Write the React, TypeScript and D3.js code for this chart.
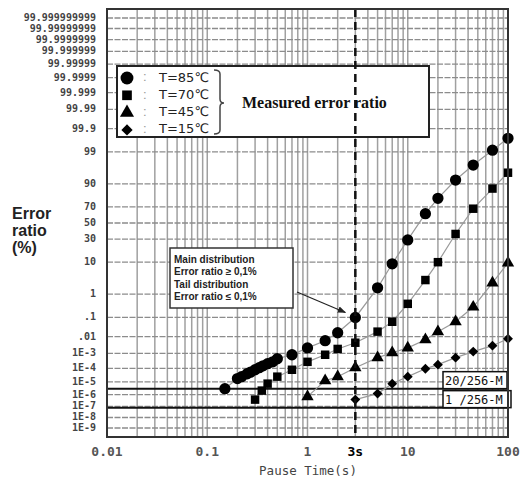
import React from 'react';
import * as d3 from 'd3';

// error ratio (%) vs pause time (s)
const t85 = [0.15, 0.2, 0.22, 0.25, 0.27, 0.3, 0.33, 0.36, 0.4, 0.45, 0.5, 0.7, 1, 1.5, 2, 3, 5, 7, 10, 15, 20, 30, 45, 70, 100];
const e85 = [3.0e-6, 1.8e-5, 2.5e-5, 4.1e-5, 5.3e-5, 7.9e-5, 1.1e-4, 1.5e-4, 2.1e-4, 2.8e-4, 4.5e-4, 8.2e-4, 2.2e-3, 5.9e-3, 0.0165, 0.1, 1.7, 9.1, 29, 62, 79, 92, 97.1, 99.14, 99.72];

const t70 = [0.3, 0.35, 0.4, 0.5, 0.7, 1, 1.5, 2, 3, 5, 7, 10, 15, 20, 30, 45, 70, 100];
const e70 = [3.8e-7, 2.1e-6, 7.4e-6, 2.5e-5, 7.9e-5, 2.8e-4, 8.2e-4, 1.9e-3, 4.5e-3, 0.019, 0.062, 0.41, 3.1, 10, 36, 68, 87, 95];

const t45 = [1, 1.5, 2, 3, 5, 7, 10, 15, 20, 30, 45, 70, 100];
const e45 = [6.7e-7, 1.25e-5, 2.5e-5, 1.1e-4, 5.3e-4, 1.1e-3, 2.2e-3, 6.7e-3, 0.019, 0.062, 0.3, 2.5, 9.6];

const t15 = [3, 5, 7, 10, 15, 20, 30, 45, 70, 100];
const e15 = [3.8e-7, 1.2e-6, 7.4e-6, 2.5e-5, 9.4e-5, 1.8e-4, 5.3e-4, 1.3e-3, 3.0e-3, 7.6e-3];

const seriesNames = ['T=85℃', 'T=70℃', 'T=45℃', 'T=15℃'];

const yTickValues = [99.999999999, 99.99999999, 99.9999999, 99.999999, 99.99999, 99.9999, 99.999, 99.99, 99.9, 99, 90, 70, 50, 30, 10, 1, 0.1, 0.01, 1e-3, 1e-4, 1e-5, 1e-6, 1e-7, 1e-8, 1e-9];
const yTickLabels = ['99.999999999', '99.99999999', '99.9999999', '99.999999', '99.99999', '99.9999', '99.999', '99.99', '99.9', '99', '90', '70', '50', '30', '10', '1', '.1', '.01', '1E-3', '1E-4', '1E-5', '1E-6', '1E-7', '1E-8', '1E-9'];

const xTickValues = [0.01, 0.1, 1, 3, 10, 100];
const xTickLabels = ['0.01', '0.1', '1', '3s', '10', '100'];

const limitLabels = ['20/256-M', '1 /256-M'];
const limitValues = [3.0e-6, 7.7e-8];

const markedTime = 3;

// inverse normal cdf (Acklam)
function probit(p: number): number {
  const a = [-3.969683028665376e1, 2.209460984245205e2, -2.759285104469687e2, 1.38357751867269e2, -3.066479806614716e1, 2.506628277459239];
  const b = [-5.447609879822406e1, 1.615858368580409e2, -1.556989798598866e2, 6.680131188771972e1, -1.328068155288572e1];
  const c = [-7.784894002430293e-3, -3.223964580411365e-1, -2.400758277161838, -2.549732539343734, 4.374664141464968, 2.938163982698783];
  const d = [7.784695709041462e-3, 3.224671290700398e-1, 2.445134137142996, 3.754408661907416];
  const tail = (q: number) =>
    (((((c[0] * q + c[1]) * q + c[2]) * q + c[3]) * q + c[4]) * q + c[5]) /
    ((((d[0] * q + d[1]) * q + d[2]) * q + d[3]) * q + 1);
  if (p < 0.02425) return tail(Math.sqrt(-2 * Math.log(p)));
  if (p > 1 - 0.02425) return -tail(Math.sqrt(-2 * Math.log(1 - p)));
  const q = p - 0.5, r = q * q;
  return ((((((a[0] * r + a[1]) * r + a[2]) * r + a[3]) * r + a[4]) * r + a[5]) * q) /
    (((((b[0] * r + b[1]) * r + b[2]) * r + b[3]) * r + b[4]) * r + 1);
}

const W = 520, H = 481;
const left = 107, right = 508, top = 9, bottom = 437;

const x = d3.scaleLog().domain([0.01, 100]).range([left, right]);
const z = d3.scaleLinear().domain([-7, 7]).range([bottom, top]);
const y = (pct: number) => (pct >= 50 ? z(-probit((100 - pct) / 100)) : z(probit(pct / 100)));

const series = [
  { t: t85, e: e85, shape: d3.symbolCircle, size: 100 },
  { t: t70, e: e70, shape: d3.symbolSquare, size: 72 },
  { t: t45, e: e45, shape: d3.symbolTriangle, size: 66 },
  { t: t15, e: e15, shape: d3.symbolDiamond2, size: 62 },
];

const line = d3.line<[number, number]>().x(d => x(d[0])).y(d => y(d[1]));

const mono = '"DejaVu Sans Mono", monospace';
const sans = '"Liberation Sans", Arial, sans-serif';

export default function App() {
  const gridX = x.ticks();
  const anchorX = x(markedTime), anchorY = y(0.1);

  return (
    <svg width={W} height={H} style={{ position: 'absolute', left: 0, top: 0, background: '#fff' }}>
      <defs>
        <marker id="arrow" viewBox="0 0 10 10" refX="9" refY="5" markerWidth="7" markerHeight="7" orient="auto">
          <path d="M0,1 L10,5 L0,9 z" fill="#222" />
        </marker>
      </defs>
      <rect width={W} height={H} fill="#fff" />

      {/* grid */}
      {gridX.map((v, i) => (
        <line key={'gx' + i} x1={x(v)} x2={x(v)} y1={top} y2={bottom} stroke="#a0a0a0" strokeWidth={1.5} />
      ))}
      {yTickValues.map((v, i) => (
        <line key={'gy' + i} x1={left} x2={right} y1={y(v)} y2={y(v)} stroke="#8c8c8c" strokeWidth={1.3} strokeDasharray="6,1.5" />
      ))}

      {/* limits */}
      {limitValues.map((v, i) => (
        <line key={'lim' + i} x1={left} x2={right} y1={y(v)} y2={y(v)} stroke="#111" strokeWidth={2} />
      ))}

      {/* connecting lines + markers */}
      {series.map((s, i) => (
        <path key={'ln' + i} d={line(s.t.map((t, j) => [t, s.e[j]] as [number, number])) || ''} fill="none" stroke="#9a9a9a" strokeWidth={1.2} />
      ))}
      {series.map((s, i) =>
        s.t.map((t, j) => (
          <path key={'pt' + i + '-' + j} d={d3.symbol(s.shape, s.size)() || ''} transform={`translate(${x(t)},${y(s.e[j])})`} fill="#000" />
        ))
      )}

      {/* legend */}
      <rect x={117} y={66} width={312} height={71} fill="#fff" stroke="#222" strokeWidth={2} />
      {series.map((s, i) => {
        const ly = 78 + i * 17.3;
        return (
          <g key={'lg' + i}>
            <path d={d3.symbol(s.shape, s.size * 1.3)() || ''} transform={`translate(127,${ly})`} fill="#000" />
            <text x={143} y={ly} dominantBaseline="middle" fontFamily={sans} fontSize={13} fill="#999">:</text>
            <text x={159} y={ly} dominantBaseline="middle" fontFamily='"DejaVu Sans", sans-serif' fontSize={13} fill="#222">{seriesNames[i]}</text>
          </g>
        );
      })}
      <path d="M214,70 Q220,70 220,74 L220,99 Q220,103 224,103 Q220,103 220,107 L220,130 Q220,134 214,134" fill="none" stroke="#444" strokeWidth={1.5} />
      <text x={242} y={108} fontFamily='"Liberation Serif", "Times New Roman", serif' fontWeight="bold" fontSize={16} fill="#111">Measured error ratio</text>

      {/* annotation */}
      <rect x={170} y={248} width={123} height={60} fill="#fff" stroke="#333" strokeWidth={1.5} />
      {['Main distribution', 'Error ratio ≥ 0,1%', 'Tail distribution', 'Error ratio ≤ 0,1%'].map((s, i) => (
        <text key={'an' + i} x={174} y={260 + i * 12.5} dominantBaseline="middle" fontFamily={sans} fontWeight="bold" fontSize={10} fill="#222">{s}</text>
      ))}
      <line x1={297} y1={292} x2={anchorX - 10} y2={anchorY - 5} stroke="#222" strokeWidth={1.2} markerEnd="url(#arrow)" />

      {/* limit labels */}
      {limitValues.map((v, i) => {
        const ly = y(v);
        const w = i === 0 ? 64 : 68;
        return (
          <g key={'ll' + i}>
            <rect x={443} y={ly - 17} width={w} height={17} fill="#fff" stroke="#111" strokeWidth={1.5} />
            <text x={445} y={ly - 4} fontFamily={mono} fontSize={12} fill="#111">{limitLabels[i]}</text>
          </g>
        );
      })}

      {/* 3s marker line */}
      <line x1={x(markedTime)} x2={x(markedTime)} y1={top} y2={bottom} stroke="#111" strokeWidth={2.5} strokeDasharray="8,5" />

      {/* frame */}
      <rect x={left} y={top} width={right - left} height={bottom - top} fill="none" stroke="#333" strokeWidth={2} />

      {/* y axis */}
      {yTickValues.map((v, i) => (
        <text key={'yt' + i} x={96} y={y(v)} textAnchor="end" dominantBaseline="middle" fontFamily={mono} fontSize={10} fontWeight="bold" fill="#444">{yTickLabels[i]}</text>
      ))}
      <g fontFamily={sans} fontWeight="bold" fontSize={16} fill="#222">
        <text x={12} y={219}>Error</text>
        <text x={12} y={236}>ratio</text>
        <text x={12} y={253}>(%)</text>
      </g>

      {/* x axis */}
      {xTickValues.map((v, i) => (
        <text key={'xt' + i} x={x(v)} y={456} textAnchor="middle" fontFamily={mono} fontSize={13}
          fontWeight="bold" fill={v === markedTime ? '#000' : '#555'}>{xTickLabels[i]}</text>
      ))}
      <text x={308} y={475} textAnchor="middle" fontFamily={mono} fontSize={12.5} fill="#444">Pause Time(s)</text>
    </svg>
  );
}
